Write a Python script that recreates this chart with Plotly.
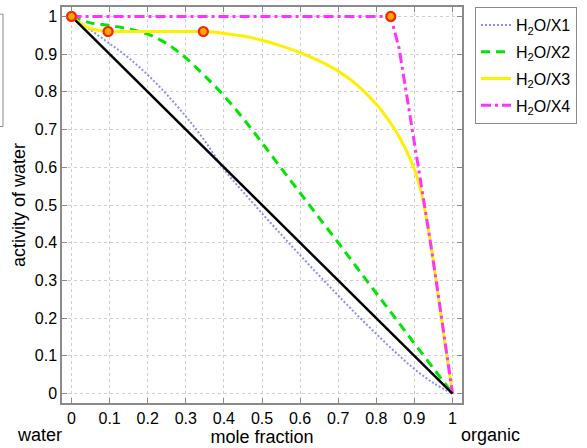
import plotly.graph_objects as go

# ---- data ----
x1 = [0, 0.05, 0.1, 0.15, 0.2, 0.25, 0.3, 0.35, 0.4, 0.45, 0.5, 0.55, 0.6, 0.65, 0.7, 0.75, 0.8, 0.85, 0.9, 0.95, 1.0]
y1 = [1.0, 0.964, 0.928, 0.89, 0.845, 0.793, 0.735, 0.67, 0.595, 0.535, 0.478, 0.422, 0.367, 0.313, 0.26, 0.208, 0.158, 0.11, 0.065, 0.028, 0.0]

x2 = [0, 0.05, 0.1, 0.15, 0.2, 0.25, 0.3, 0.35, 0.4, 0.45, 0.5, 0.55, 0.6, 0.65, 0.7, 0.75, 0.8, 0.85, 0.9, 0.95, 1.0]
y2 = [1.0, 0.983, 0.976, 0.967, 0.953, 0.928, 0.89, 0.842, 0.79, 0.73, 0.665, 0.598, 0.532, 0.466, 0.4, 0.333, 0.266, 0.2, 0.133, 0.067, 0.0]

x3 = [0, 0.02, 0.05, 0.095, 0.15, 0.2, 0.25, 0.3, 0.35, 0.4, 0.45, 0.5, 0.55, 0.6, 0.65, 0.7, 0.75, 0.8,
      0.825, 0.85, 0.875, 0.9, 0.9125, 0.925, 0.9375, 0.95, 0.975, 1.0]
y3 = [1.0, 0.984, 0.968, 0.96, 0.96, 0.96, 0.96, 0.96, 0.96, 0.955, 0.948, 0.937, 0.922, 0.904, 0.882, 0.855, 0.818, 0.767,
      0.735, 0.698, 0.652, 0.595, 0.555, 0.5, 0.43, 0.35, 0.17, 0.0]

x4 = [0, 0.838, 0.86, 0.88, 0.9, 0.92, 0.94, 0.96, 0.98, 1.0]
y4 = [1.0, 1.0, 0.915, 0.79, 0.665, 0.55, 0.415, 0.28, 0.14, 0.0]

ideal_x = [0, 1]
ideal_y = [1, 0]

mark_x = [0, 0.096, 0.346, 0.838]
mark_y = [1.0, 0.96, 0.96, 1.0]

names = ["H<sub>2</sub>O/X1", "H<sub>2</sub>O/X2", "H<sub>2</sub>O/X3", "H<sub>2</sub>O/X4"]
ticks = [0, 0.1, 0.2, 0.3, 0.4, 0.5, 0.6, 0.7, 0.8, 0.9, 1]
tick_text = ["0", "0.1", "0.2", "0.3", "0.4", "0.5", "0.6", "0.7", "0.8", "0.9", "1"]

FONT = "Liberation Sans, Arial, Helvetica, sans-serif"

fig = go.Figure()
fig.add_trace(go.Scatter(x=x1, y=y1, mode="lines", name=names[0], legendgroup="g1",
                         line=dict(color="#8c8cff", width=2, dash="2px,2px", shape="spline", smoothing=1)))
fig.add_trace(go.Scatter(x=x2, y=y2, mode="lines", name=names[1], legendgroup="g2",
                         line=dict(color="#00e600", width=3, dash="9px,6px", shape="spline", smoothing=1)))
fig.add_trace(go.Scatter(x=x3, y=y3, mode="lines", name=names[2], legendgroup="g3",
                         line=dict(color="#fff000", width=3, shape="spline", smoothing=0.9)))
fig.add_trace(go.Scatter(x=x4, y=y4, mode="lines", name=names[3], legendgroup="g4",
                         line=dict(color="#ff33ff", width=3, dash="10px,4px,3px,4px")))
fig.add_trace(go.Scatter(x=ideal_x, y=ideal_y, mode="lines", showlegend=False,
                         line=dict(color="black", width=2.5)))
fig.add_trace(go.Scatter(x=mark_x, y=mark_y, mode="markers", showlegend=False, cliponaxis=False,
                         marker=dict(size=9, color="#ffaa00", line=dict(color="#ff2200", width=2.2))))

axis_common = dict(
    showline=True, linecolor="#8a8a8a", linewidth=1.5, mirror="ticks",
    ticks="inside", ticklen=5, tickcolor="#8a8a8a", tickwidth=1,
    showgrid=True, gridcolor="#cfcfcf", griddash="dot", gridwidth=1,
    zeroline=False, tickfont=dict(family=FONT, size=16, color="black"),
    tickvals=ticks, ticktext=tick_text,
)

fig.update_layout(
    width=587, height=448,
    margin=dict(l=62, r=125, t=5, b=45),
    paper_bgcolor="white", plot_bgcolor="white",
    font=dict(family=FONT, size=16, color="black"),
    xaxis=dict(range=[-0.025, 1.025], title=dict(text="mole fraction", standoff=0,
                                                 font=dict(family=FONT, size=18)), **axis_common),
    yaxis=dict(range=[-0.025, 1.025], title=dict(text="activity of water", standoff=4,
                                                 font=dict(family=FONT, size=18)), **axis_common),
    legend=dict(x=1.0325, y=1.0, xanchor="left", yanchor="top",
                bordercolor="#8a8a8a", borderwidth=1, bgcolor="white",
                font=dict(family=FONT, size=16), tracegroupgap=3, itemwidth=30),
    showlegend=True,
)

fig.add_annotation(text="water", x=-0.0575, y=-0.08, xref="paper", yref="paper",
                   showarrow=False, font=dict(family=FONT, size=18), xanchor="center", yanchor="middle")
fig.add_annotation(text="organic", x=1.07, y=-0.08, xref="paper", yref="paper",
                   showarrow=False, font=dict(family=FONT, size=18), xanchor="center", yanchor="middle")

# partial box visible at the left edge of the reference
fig.add_shape(type="rect", xref="paper", yref="paper",
              x0=-0.25, x1=-0.1475, y0=0.698, y1=0.982,
              line=dict(color="#8a8a8a", width=1), fillcolor="rgba(0,0,0,0)")

fig.write_html("out.html")
